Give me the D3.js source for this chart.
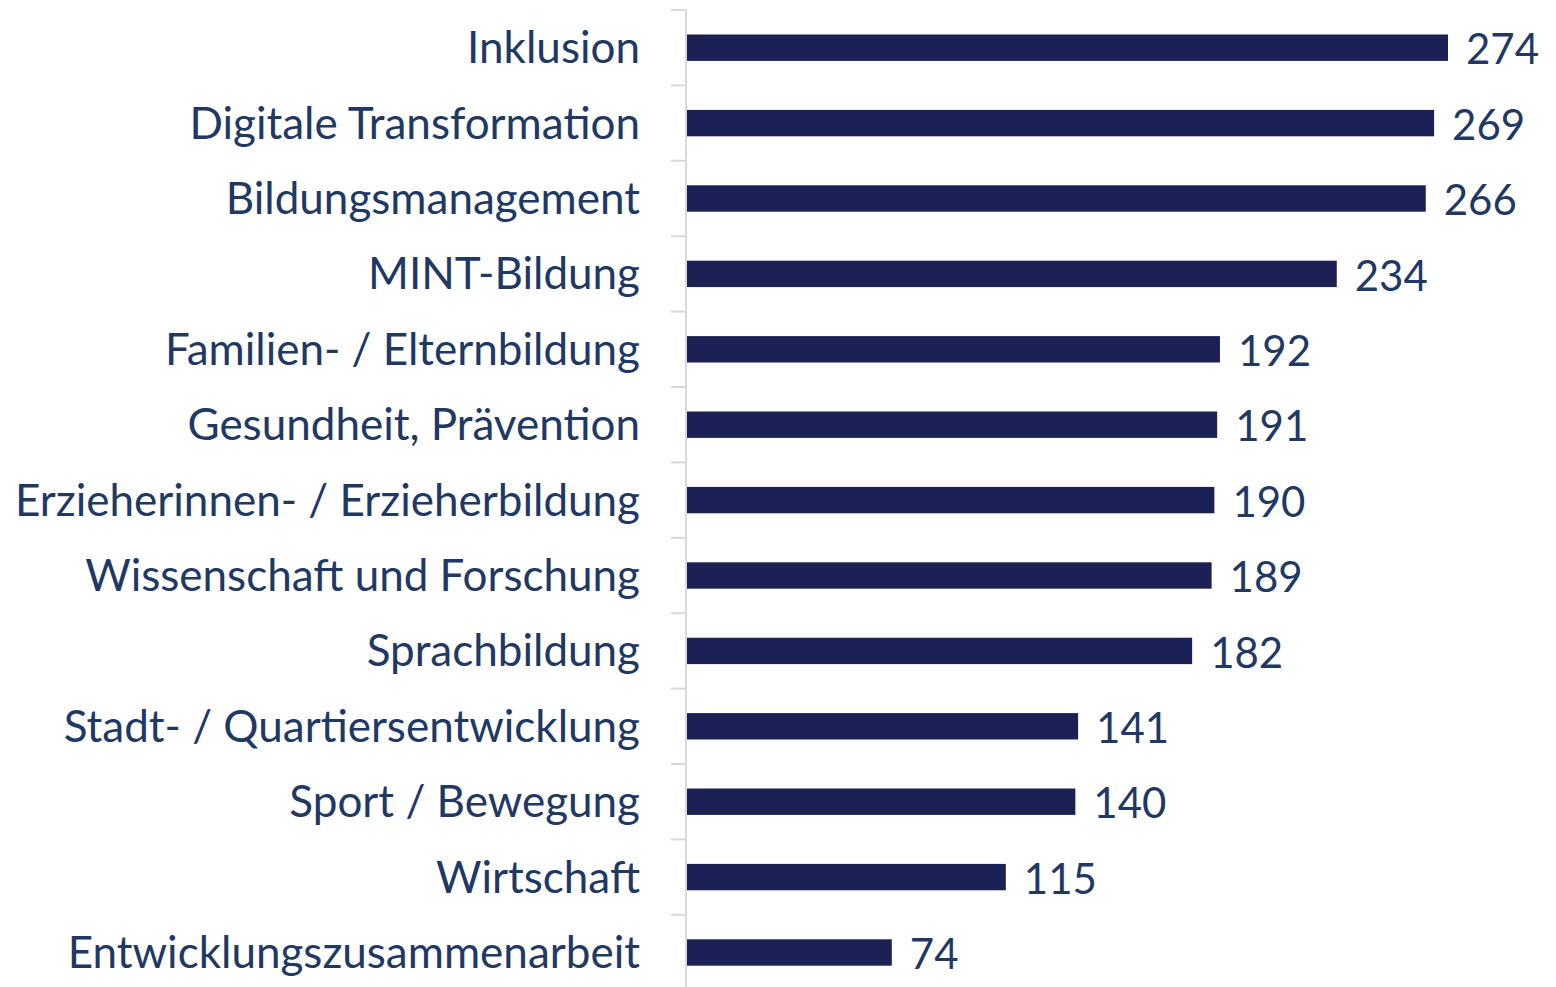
<!DOCTYPE html>
<html>
<head>
<meta charset="utf-8">
<script src="https://cdn.jsdelivr.net/npm/d3@7"></script>
<style>
  body { margin: 0; background: #fff; }
  text { font-family: Lato, "Open Sans", sans-serif; }
</style>
</head>
<body>
<script>
const categories = [
  'Inklusion',
  'Digitale Transformation',
  'Bildungsmanagement',
  'MINT-Bildung',
  'Familien- / Elternbildung',
  'Gesundheit, Prävention',
  'Erzieherinnen- / Erzieherbildung',
  'Wissenschaft und Forschung',
  'Sprachbildung',
  'Stadt- / Quartiersentwicklung',
  'Sport / Bewegung',
  'Wirtschaft',
  'Entwicklungszusammenarbeit',
]
const values = [274, 269, 266, 234, 192, 191, 190, 189, 182, 141, 140, 115, 74]

const width = 1556
const height = 987
const x0 = 686
const plotTop = 10
const step = 75.4

const svg = d3.select('body').append('svg')
  .attr('width', width)
  .attr('height', height)

const x = d3.scaleLinear().domain([0, 274]).range([x0, 1448])
const y = d3.scaleBand()
  .domain(categories)
  .range([plotTop, plotTop + step * categories.length])
  .paddingInner(0.65)
  .paddingOuter(0.325)

// axis with tick marks at band boundaries
const bounds = categories.map((c, i) => plotTop + step * i)
svg.selectAll('.tick')
  .data(bounds)
  .enter()
  .append('line')
  .attr('x1', x0 - 15)
  .attr('x2', x0)
  .attr('y1', (d) => d)
  .attr('y2', (d) => d)
  .attr('stroke', '#d9d9d9')
  .attr('stroke-width', 2)
svg.append('line')
  .attr('x1', x0).attr('x2', x0)
  .attr('y1', plotTop).attr('y2', height)
  .attr('stroke', '#d9d9d9')
  .attr('stroke-width', 2)

const data = categories.map((c, i) => ({ c, v: values[i] }))

svg.selectAll('.bar')
  .data(data)
  .enter()
  .append('rect')
  .attr('x', x0 + 1)
  .attr('y', (d) => y(d.c))
  .attr('width', (d) => x(d.v) - x0 - 1)
  .attr('height', y.bandwidth())
  .attr('fill', '#1c2155')

svg.selectAll('.lab')
  .data(data)
  .enter()
  .append('text')
  .attr('x', 640)
  .attr('y', (d) => y(d.c) + y.bandwidth() / 2)
  .attr('dy', '0.35em')
  .attr('text-anchor', 'end')
  .attr('fill', '#1f3864')
  .style('font-size', '44px')
  .text((d) => d.c)

svg.selectAll('.val')
  .data(data)
  .enter()
  .append('text')
  .attr('x', (d) => x(d.v) + 18)
  .attr('y', (d) => y(d.c) + y.bandwidth() / 2 + 2)
  .attr('dy', '0.35em')
  .attr('fill', '#1f3864')
  .style('font-size', '42px')
  .text((d) => d.v)
</script>
</body>
</html>
